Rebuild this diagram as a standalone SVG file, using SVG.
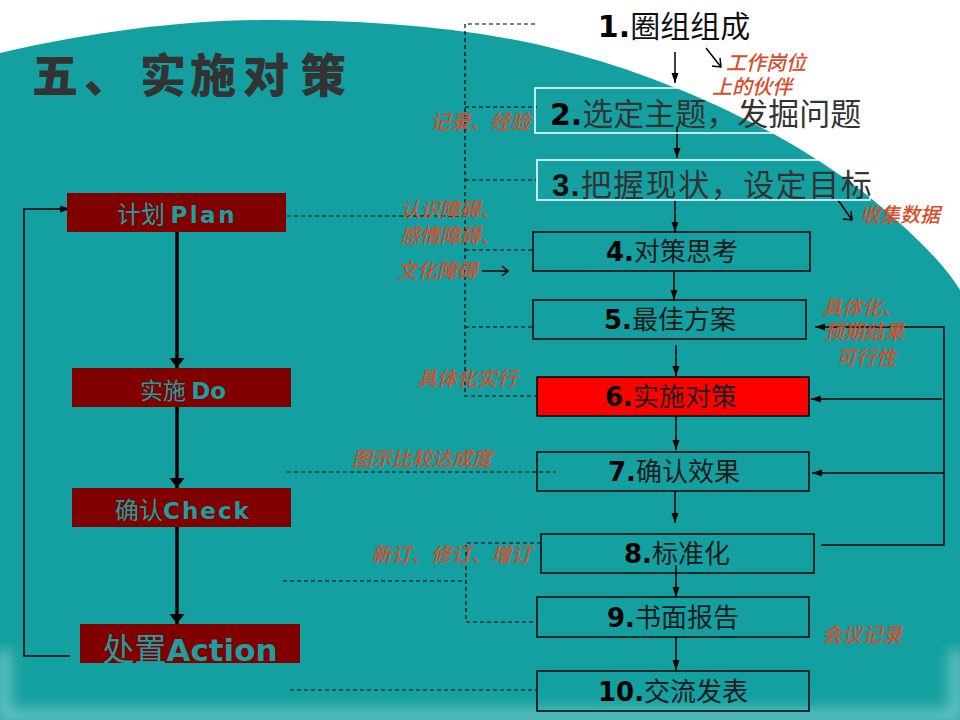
<svg xmlns="http://www.w3.org/2000/svg" width="960" height="720" viewBox="0 0 960 720">
<defs>
<style>
.dash{fill:none;stroke:#000;stroke-width:1.2;stroke-dasharray:4 3}
.ln{fill:none;stroke:#000;stroke-width:1.5}
.thick{fill:none;stroke:#000;stroke-width:3.5}
.box{fill:none;stroke:#000;stroke-width:1.5}
.wbox{fill:none;stroke:#fff;stroke-width:1.5}
.pdca{fill:#800000}
.lbl{font-family:"Noto Sans CJK SC",sans-serif;font-style:italic;font-weight:500;font-size:20px;fill:#D94B2A}
.num{font-family:"DejaVu Sans",sans-serif;font-weight:bold;fill:#000}
.cjk{font-family:"Noto Sans CJK SC",sans-serif}
.bt{font-family:"Noto Sans CJK SC",sans-serif;font-size:26px;fill:#1c1c1c}
.pt{font-family:"Noto Sans CJK SC",sans-serif;fill:#1E9E9E}
.pl{font-family:"DejaVu Sans",sans-serif;font-weight:bold;fill:#1E9E9E}
</style>
<marker id="a" markerUnits="userSpaceOnUse" markerWidth="11" markerHeight="8" refX="10" refY="3.5" orient="auto"><path d="M0,0 L10,3.5 L0,7 z" fill="#000"/></marker>
<marker id="ab" markerUnits="userSpaceOnUse" markerWidth="12" markerHeight="16" refX="10" refY="7.5" orient="auto"><path d="M0,0 L10,7.5 L0,15 z" fill="#000"/></marker>
<filter id="soft" x="-10%" y="-10%" width="120%" height="120%"><feGaussianBlur stdDeviation="7"/></filter>
</defs>
<rect width="960" height="720" fill="#fff"/>
<path d="M0,53 C100,30 190,20 270,20 C370,20 470,27 560,50 C680,80 800,140 873,200 C915,235 945,265 960,290 L960,720 L0,720 Z" fill="#14A0A0"/>
<path d="M4,650 V716 H956 V650" fill="none" stroke="#9fd8d8" stroke-width="14" opacity="0.6" filter="url(#soft)"/>
<text x="32 84 140 190 243 300" y="92" font-family="Noto Sans CJK SC, sans-serif" font-size="46" font-weight="900" fill="#333">五、实施对策</text>
<g id="connectors">
<path class="dash" d="M535,24 H465 V396 H537"/>
<path class="dash" d="M465,107 H537"/>
<path class="dash" d="M465,180 H537"/>
<path class="dash" d="M465,250 H533"/>
<path class="dash" d="M465,327 H533"/>
<path class="dash" d="M287,216 H465"/>
<path class="dash" d="M287,472 H556"/>
<path class="dash" d="M283,581 H466"/>
<path class="dash" d="M541,543 H466 V622 H537"/>
<path class="dash" d="M290,690 H537"/>
<path class="thick" d="M177,232 V368" marker-end="url(#ab)"/>
<path class="thick" d="M177,407 V488" marker-end="url(#ab)"/>
<path class="thick" d="M177,527 V624" marker-end="url(#ab)"/>
<path class="ln" d="M70,656 H24 V209 H70" marker-end="url(#a)"/>
<path class="ln" d="M675,52 V83" marker-end="url(#a)"/>
<path class="ln" d="M677,127 V158" marker-end="url(#a)"/>
<path class="ln" d="M675,200 V232" marker-end="url(#a)"/>
<path class="ln" d="M674,271 V300" marker-end="url(#a)"/>
<path class="ln" d="M676,345 V376" marker-end="url(#a)"/>
<path class="ln" d="M676,416 V450" marker-end="url(#a)"/>
<path class="ln" d="M675,491 V523" marker-end="url(#a)"/>
<path class="ln" d="M676,565 V597" marker-end="url(#a)"/>
<path class="ln" d="M676,637 V670" marker-end="url(#a)"/>
<path class="ln" d="M821,545 H944 V327 H815" marker-end="url(#a)"/>
<path class="ln" d="M942,399 H811" marker-end="url(#a)"/>
<path class="ln" d="M944,473 H812" marker-end="url(#a)"/>
<path class="ln" d="M706,48 L721,67 M712,66 L721,67 L720,58"/>
<path class="ln" d="M838,200 L852,220 M843,219 L852,220 L851,211"/>
<path class="ln" d="M482,271 H508 M502,266 L508,271 L502,276"/>
</g>
<g id="plan"><rect class="pdca" x="67" y="193" width="219" height="39"/>
<text x="177" y="223" text-anchor="middle"><tspan class="pt" font-size="24">计划 </tspan><tspan class="pl" font-size="23" letter-spacing="2.5">Plan</tspan></text></g>
<g id="do"><rect class="pdca" x="72" y="368" width="219" height="39"/>
<text x="183" y="399" text-anchor="middle"><tspan class="pt" font-size="23">实施 </tspan><tspan class="pl" font-size="23">Do</tspan></text></g>
<g id="check"><rect class="pdca" x="72" y="488" width="219" height="39"/>
<text x="183" y="519" text-anchor="middle"><tspan class="pt" font-size="24">确认</tspan><tspan class="pl" font-size="23" letter-spacing="2">Check</tspan></text></g>
<g id="action"><rect class="pdca" x="80" y="624" width="220" height="39"/>
<text x="190" y="661" text-anchor="middle"><tspan class="pt" font-size="32">处置</tspan><tspan class="pl" font-size="31">Action</tspan></text></g>
<g id="n1"><text x="674" y="37" text-anchor="middle"><tspan class="num" font-size="30">1.</tspan><tspan class="cjk" font-size="30" fill="#111">圈组组成</tspan></text></g>
<g id="n2"><rect class="wbox" x="535" y="88" width="335" height="45"/>
<text x="550" y="125"><tspan class="num" font-size="30">2.</tspan><tspan class="cjk" font-size="31" fill="#333">选定主题，发掘问题</tspan></text></g>
<g id="n3"><rect class="wbox" x="537" y="160" width="333" height="40"/>
<text x="552" y="196" letter-spacing="1.5"><tspan font-family="Liberation Sans, sans-serif" font-weight="bold" font-size="31" fill="#111">3.</tspan><tspan class="cjk" font-size="31" fill="#333">把握现状，设定目标</tspan></text></g>
<g id="n4"><rect class="box" x="533" y="232" width="277" height="39"/>
<text x="672" y="261" text-anchor="middle"><tspan class="num" font-size="26">4.</tspan><tspan class="bt">对策思考</tspan></text></g>
<g id="n5"><rect class="box" x="533" y="300" width="273" height="39"/>
<text x="670" y="329" text-anchor="middle"><tspan class="num" font-size="26">5.</tspan><tspan class="bt">最佳方案</tspan></text></g>
<g id="n6"><rect x="537" y="377" width="272" height="39" fill="#ff0000" stroke="#000" stroke-width="1.5"/>
<text x="671" y="406" text-anchor="middle"><tspan class="num" font-size="26">6.</tspan><tspan class="bt" fill="#5A3CA0">实施对策</tspan></text></g>
<g id="n7"><rect class="box" x="537" y="452" width="272" height="39"/>
<text x="674" y="481" text-anchor="middle"><tspan class="num" font-size="26">7.</tspan><tspan class="bt">确认效果</tspan></text></g>
<g id="n8"><rect class="box" x="541" y="534" width="273" height="39"/>
<text x="677" y="563" text-anchor="middle"><tspan class="num" font-size="26">8.</tspan><tspan class="bt">标准化</tspan></text></g>
<g id="n9"><rect class="box" x="537" y="597" width="272" height="40"/>
<text x="673" y="627" text-anchor="middle"><tspan class="num" font-size="26">9.</tspan><tspan class="bt">书面报告</tspan></text></g>
<g id="n10"><rect class="box" x="537" y="671" width="272" height="40"/>
<text x="673" y="701" text-anchor="middle"><tspan class="num" font-size="26">10.</tspan><tspan class="bt">交流发表</tspan></text></g>
<g id="labels">
<text class="lbl"><tspan x="726" y="70">工作岗位</tspan><tspan x="712" y="94">上的伙伴</tspan></text>
<text class="lbl" x="430" y="129">记录、经验</text>
<text class="lbl" x="860" y="222">收集数据</text>
<text class="lbl"><tspan x="400" y="217">认识障碍、</tspan><tspan x="400" y="243">感情障碍、</tspan><tspan x="397" y="278">文化障碍</tspan></text>
<text class="lbl"><tspan x="822" y="315">具体化、</tspan><tspan x="824" y="339">预期结果</tspan><tspan x="836" y="365">可行性</tspan></text>
<text class="lbl" x="417" y="386">具体化实行</text>
<text class="lbl" x="352" y="466" font-size="21">图示比较达成度</text>
<text class="lbl" x="371" y="562" font-size="21">新订、修订、增订</text>
<text class="lbl" x="822" y="642" font-size="21">会议记录</text>
</g>
</svg>
